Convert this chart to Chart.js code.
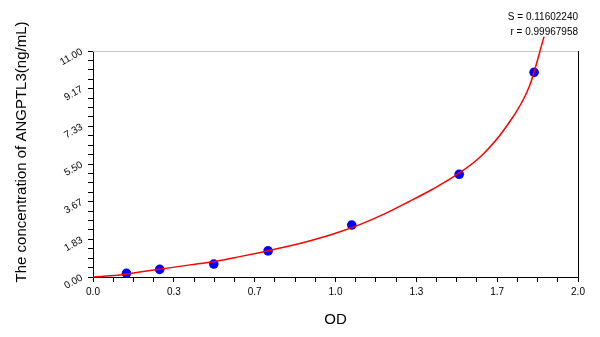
<!DOCTYPE html>
<html>
<head>
<meta charset="utf-8">
<script src="https://cdn.jsdelivr.net/npm/chart.js@4.4.1/dist/chart.umd.min.js"></script>
<style>
  html, body { margin: 0; padding: 0; background: #fff; }
  #wrap { width: 600px; height: 337px; }
</style>
</head>
<body>
<div id="wrap"><canvas id="stdChart" width="600" height="337"></canvas></div>
<script>
// Fitted standard curve (OD -> ng/mL)
const curveOD   = [0, 0.1, 0.2, 0.3, 0.4, 0.5, 0.6, 0.7, 0.8, 0.9, 1.0, 1.1, 1.2, 1.3, 1.4, 1.5, 1.6, 1.7, 1.8, 1.86];
const curveConc = [0, 0.08, 0.25, 0.42, 0.59, 0.76, 0.98, 1.22, 1.48, 1.78, 2.13, 2.55, 3.06, 3.65, 4.27, 4.98, 5.88, 7.25, 9.3, 11.7];

// Measured standards (blue dots)
const stdOD   = [0.138, 0.275, 0.498, 0.722, 1.067, 1.51, 1.819];
const stdConc = [0.18, 0.37, 0.63, 1.27, 2.53, 5.0, 9.96];

// Axis labels
const xTickLabels = ['0.0', '0.3', '0.7', '1.0', '1.3', '1.7', '2.0'];
const yTickLabels = ['0.00', '1.83', '3.67', '5.50', '7.33', '9.17', '11.00'];
const xTitle = 'OD';
const yTitle = 'The concentration of ANGPTL3(ng/mL)';
const fitStats = ['S = 0.11602240', 'r = 0.99967958'];

const FONT = 'Arial, "Liberation Sans", sans-serif';

// 4 minor steps between each labelled tick
function minorTicks(max, majors) {
    const n = (majors.length - 1) * 4;
    const out = [];
    for (let i = 0; i <= n; i++) out.push({ value: max * i / n });
    return out;
}

// frame (grey top, black right), rotated y title and fit statistics
const extrasPlugin = {
    id: 'extras',
    beforeDatasetsDraw(chart) {
        const { ctx, chartArea: a } = chart;
        ctx.save();
        ctx.lineWidth = 1;
        ctx.strokeStyle = '#c8c8c8';
        ctx.beginPath();
        ctx.moveTo(a.left, a.top + 0.5);
        ctx.lineTo(a.right, a.top + 0.5);
        ctx.stroke();
        ctx.strokeStyle = '#000';
        ctx.beginPath();
        ctx.moveTo(a.right + 0.5, a.top);
        ctx.lineTo(a.right + 0.5, a.bottom);
        ctx.stroke();
        ctx.restore();
    },
    afterDraw(chart) {
        const { ctx, chartArea: a } = chart;
        ctx.save();
        ctx.fillStyle = '#000';
        ctx.font = '15px ' + FONT;
        ctx.textAlign = 'center';
        ctx.textBaseline = 'middle';
        ctx.translate(22, 152);
        ctx.rotate(-Math.PI / 2);
        ctx.fillText(yTitle, 0, 0);
        ctx.restore();

        ctx.save();
        ctx.fillStyle = '#000';
        ctx.font = '10px ' + FONT;
        ctx.textAlign = 'right';
        ctx.textBaseline = 'middle';
        ctx.fillText(fitStats[0], a.right, 17);
        ctx.fillText(fitStats[1], a.right, 32);
        ctx.restore();
    }
};

const ctx = document.getElementById('stdChart').getContext('2d');
const chart = new Chart(ctx, {
    type: 'scatter',
    data: {
        datasets: [
            {
                label: 'Fit',
                data: curveOD.map((x, i) => ({ x: x, y: curveConc[i] })),
                showLine: true,
                borderColor: '#ff0000',
                borderWidth: 1.5,
                pointRadius: 0,
                cubicInterpolationMode: 'monotone',
                clip: false,
                order: 0
            },
            {
                label: 'Standards',
                data: stdOD.map((x, i) => ({ x: x, y: stdConc[i] })),
                backgroundColor: '#0000ff',
                borderWidth: 0,
                pointRadius: 4.8,
                order: 1
            }
        ]
    },
    options: {
        responsive: false,
        animation: false,
        layout: { padding: { top: 51, right: 22, left: 0, bottom: 0 } },
        plugins: {
            legend: { display: false },
            tooltip: { enabled: false }
        },
        scales: {
            x: {
                type: 'linear',
                min: 0,
                max: 2,
                afterBuildTicks: (s) => { s.ticks = minorTicks(2, xTickLabels); },
                afterFit: (s) => { s.height = 60; },
                border: { color: '#000', width: 1 },
                grid: { drawOnChartArea: false, drawTicks: true, tickLength: 5, color: '#000' },
                ticks: {
                    autoSkip: false,
                    maxRotation: 0,
                    padding: 4,
                    color: '#000',
                    font: { family: FONT, size: 10 },
                    callback: (v, i) => (i % 4 === 0 ? xTickLabels[i / 4] : '')
                },
                title: {
                    display: true,
                    text: xTitle,
                    color: '#000',
                    font: { family: FONT, size: 15 },
                    padding: { top: 0, bottom: 8 }
                }
            },
            y: {
                type: 'linear',
                min: 0,
                max: 11,
                afterBuildTicks: (s) => { s.ticks = minorTicks(11, yTickLabels); },
                afterFit: (s) => { s.width = 93; },
                border: { color: '#000', width: 1 },
                grid: { drawOnChartArea: false, drawTicks: true, tickLength: 5, color: '#000' },
                ticks: {
                    autoSkip: false,
                    minRotation: 30,
                    maxRotation: 30,
                    padding: 6,
                    color: '#000',
                    font: { family: FONT, size: 10 },
                    callback: (v, i) => (i % 4 === 0 ? yTickLabels[i / 4] : '')
                }
            }
        }
    },
    plugins: [extrasPlugin]
});
</script>
</body>
</html>
